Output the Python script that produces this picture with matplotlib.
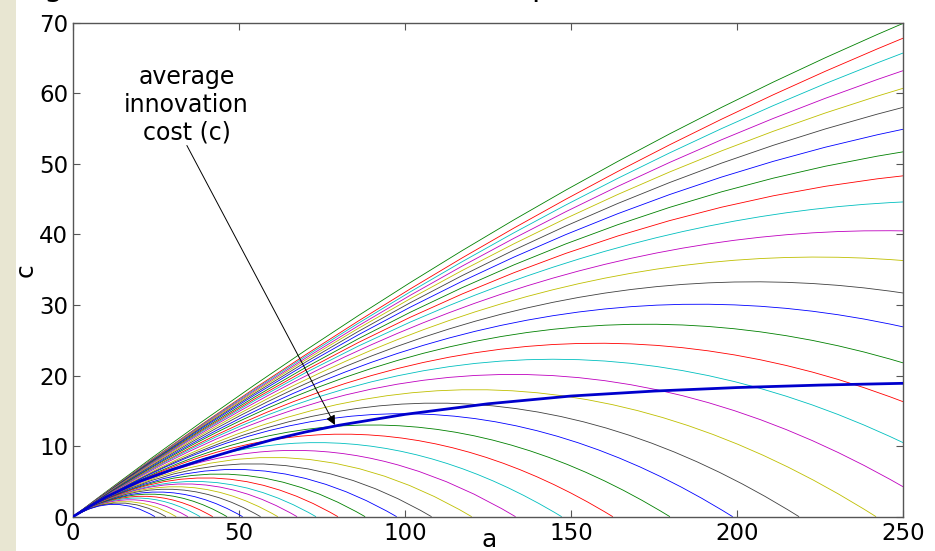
import matplotlib

matplotlib.use("Agg")
import matplotlib.pyplot as plt
from matplotlib.path import Path
from matplotlib.patches import PathPatch, Rectangle

# Innovation cost curves c(a), listed from the top curve down.
# Each curve starts at the origin; it ends at (curve_end_a, curve_end_c),
# and curve_mid_c is its value half way along (a = curve_end_a / 2).
curve_end_a = [
    250, 250, 250, 250, 250, 250, 250, 250, 250, 250, 250, 250, 250, 250,
    250, 250, 250, 250, 241.9, 218.7, 198.7, 179.8, 162.6, 147.2, 133.3,
    120.1, 108.0, 97.5, 88.0, 79.8, 73.2, 67.5, 61.7, 56.5, 51.1, 46.4,
    42.1, 38.3, 34.6, 31.1, 28.0, 24.7,
]
curve_end_c = [
    69.9, 67.8, 65.7, 63.2, 60.7, 58.0, 54.9, 51.7, 48.3, 44.6, 40.5, 36.3,
    31.7, 26.9, 21.8, 16.3, 10.5, 4.25, 0, 0, 0, 0, 0, 0, 0, 0, 0, 0, 0, 0,
    0, 0, 0, 0, 0, 0, 0, 0, 0, 0, 0, 0,
]
curve_mid_c = [
    39.9, 38.8, 38.2, 37.5, 36.8, 36.0, 35.1, 34.1, 33.1, 32.1, 30.9, 29.6,
    28.2, 26.7, 25.2, 23.5, 21.9, 20.1, 18.0, 16.1, 14.6, 13.0, 11.7, 10.5,
    9.4, 8.4, 7.5, 6.7, 6.05, 5.5, 5.0, 4.65, 4.25, 3.9, 3.5, 3.2, 2.9,
    2.65, 2.4, 2.15, 1.95, 1.75,
]

# average innovation cost
avg_a = [0, 5, 10, 20, 30, 40, 50, 60, 70, 80, 100, 125, 150, 175, 200, 225, 250]
avg_c = [0, 1.45, 2.8, 5.0, 6.7, 8.2, 9.6, 10.9, 12.0, 12.95, 14.5, 16.0,
         17.1, 17.8, 18.3, 18.65, 18.9]

x_ticks = [0, 50, 100, 150, 200, 250]
y_ticks = [0, 10, 20, 30, 40, 50, 60, 70]

# old MATLAB line colour order, starting at green
line_colors = [
    (0, 0.5, 0),
    (1, 0, 0),
    (0, 0.75, 0.75),
    (0.75, 0, 0.75),
    (0.75, 0.75, 0),
    (0.25, 0.25, 0.25),
    (0, 0, 1),
]

W, H = 935, 551
plt.rcParams["font.family"] = ["DejaVu Sans"]
fig = plt.figure(figsize=(W / 100, H / 100), dpi=100)
fig.patch.set_facecolor("white")
fig.add_artist(Rectangle((0, 0), 16 / W, 1, transform=fig.transFigure,
                         facecolor="#e8e6d2", edgecolor="none", zorder=-5))

ax = fig.add_axes([73 / W, 1 - 516.7 / H, 830 / W, 494 / H])

for i, (end_a, end_c, mid_c) in enumerate(zip(curve_end_a, curve_end_c, curve_mid_c)):
    # quadratic Bezier through the origin, the mid value and the end point
    ctrl = (end_a / 2, 2 * mid_c - 0.5 * end_c)
    path = Path([(0, 0), ctrl, (end_a, end_c)],
                [Path.MOVETO, Path.CURVE3, Path.CURVE3])
    ax.add_patch(PathPatch(path, fill=False, edgecolor=line_colors[i % 7],
                           lw=0.6, zorder=2))

ax.plot(avg_a, avg_c, color=(0, 0, 0.8), lw=2.0, zorder=3)

ax.text(34.2, 58.4, "average\ninnovation\ncost (c)", ha="center", va="center",
        fontsize=17, linespacing=1.2, color="black")
ax.annotate("", xy=(78.9, 13.0), xytext=(34.3, 52.6),
            arrowprops=dict(arrowstyle="-|>", color="black", lw=0.7,
                            mutation_scale=14, shrinkA=0, shrinkB=0),
            zorder=4)

ax.set_xlim(0, 250)
ax.set_ylim(0, 70)
ax.set_xticks(x_ticks)
ax.set_yticks(y_ticks)
ax.tick_params(direction="in", length=5, width=0.8, color="#555555",
               labelsize=16.5, top=True, right=True, pad=3.5)
for spine in ax.spines.values():
    spine.set_color("#555555")
    spine.set_linewidth(1.0)

fig.text(489 / W, 4 / H, "a", ha="center", va="baseline", fontsize=18)
fig.text(26 / W, 1 - 270 / H, "c", ha="center", va="center", fontsize=18,
         rotation=90)

# bits of the heading that sit just above the figure edge
fig.text(43 / W, 1 + 4 / H, "g", ha="left", va="baseline", fontsize=22)
fig.text(531 / W, 1 + 4 / H, "p", ha="left", va="baseline", fontsize=22)

fig.savefig("out.png", dpi=100)
